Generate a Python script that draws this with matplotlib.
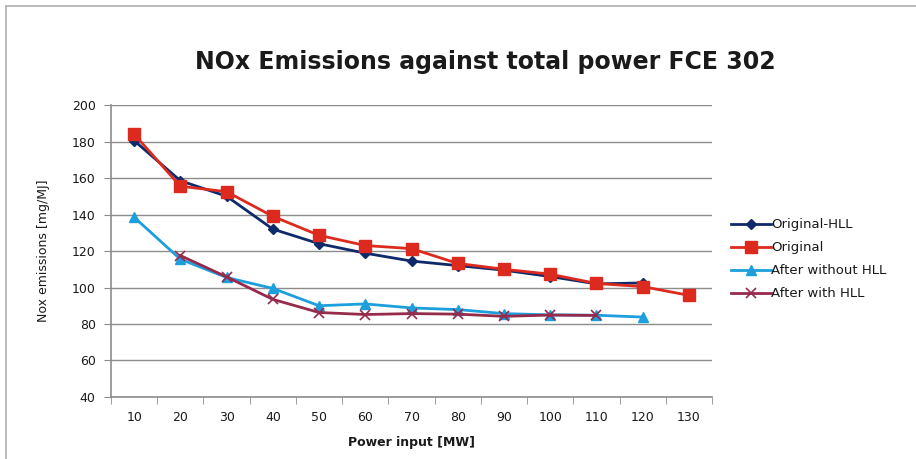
import matplotlib
matplotlib.use("Agg")
import matplotlib.pyplot as plt
from matplotlib.lines import Line2D

# Category axis: power input in MW
power_mw = [10, 20, 30, 40, 50, 60, 70, 80, 90, 100, 110, 120, 130]

# NOx emissions [mg/MJ] per series (None = no reading at that power)
original_hll = [180.5, 158.5, 150, 132, 124, 118.8, 114.5, 112, 109.5, 106, 102, 102.5, None]
original = [184, 155.5, 152.5, 139, 128.6, 123, 121.3, 113.2, 110, 107.3, 102.2, 100.5, 95.7]
after_without_hll = [138.5, 115.5, 105.5, 99.5, 90, 91, 88.8, 87.9, 85.7, 85, 84.8, 83.8, None]
after_with_hll = [None, 117.5, 105.8, 93.5, 86.3, 85.2, 85.7, 85.4, 84.2, 84.9, 84.7, None, None]

INK = "#1a1a1a"
GRID = "#8c8c8c"
NAVY = "#0e2a6a"
RED = "#dc2a1e"
SKY = "#1c9fdc"
CRIMSON = "#962a4b"

fig = plt.figure(figsize=(9.16, 4.59), dpi=100)
fig.patch.set_facecolor("white")
ax = fig.add_axes([0.1212, 0.1351, 0.6561, 0.6361])

xs = list(range(len(power_mw)))


def series(values, color, marker, label, ms, mew=1.0):
    pts = [(x, v) for x, v in zip(xs, values) if v is not None]
    ax.plot(
        [p[0] for p in pts],
        [p[1] for p in pts],
        color=color,
        marker=marker,
        markersize=ms,
        markeredgewidth=mew,
        markerfacecolor=color,
        markeredgecolor=color,
        linewidth=2.0,
        label=label,
        zorder=3,
    )


series(original_hll, NAVY, "D", "Original-HLL", 5.5)
series(original, RED, "s", "Original", 8)
series(after_without_hll, SKY, "^", "After without HLL", 7.5)
series(after_with_hll, CRIMSON, "x", "After with HLL", 7.5, mew=1.2)

ax.set_xlim(-0.5, len(power_mw) - 0.5)
ax.set_ylim(40, 200)
ax.set_yticks(range(40, 201, 20))
ax.set_xticks(xs)
ax.set_xticklabels([str(p) for p in power_mw])
ax.set_xticks([x + 0.5 for x in [-1] + xs], minor=True)

ax.grid(axis="y", color=GRID, linewidth=1.0)
ax.set_axisbelow(True)
for side in ("top", "right"):
    ax.spines[side].set_visible(False)
for side in ("left", "bottom"):
    ax.spines[side].set_color(GRID)
    ax.spines[side].set_linewidth(1.2)

ax.tick_params(axis="y", colors=GRID, labelcolor=INK, labelsize=9, length=5, pad=6)
ax.tick_params(axis="x", which="major", length=0, labelsize=9, labelcolor=INK, pad=10)
ax.tick_params(axis="x", which="minor", length=5, color=GRID)

ax.set_xlabel("Power input [MW]", fontsize=9, fontweight="bold", color=INK, labelpad=9)
ax.set_ylabel("Nox emissions [mg/MJ]", fontsize=9, color=INK, labelpad=16)

fig.text(0.53, 0.865, "NOx Emissions against total power FCE 302",
         ha="center", va="center", fontsize=17, fontweight="bold", color=INK)

leg = fig.legend(
    loc="center left",
    bbox_to_anchor=(0.785, 0.435),
    frameon=False,
    fontsize=9.5,
    handlelength=3.0,
    handletextpad=0.05,
    labelspacing=0.75,
)
for text in leg.get_texts():
    text.set_color(INK)

# Chart-area border (top and left edges)
fig.add_artist(Line2D([6 / 916, 1.0], [1 - 6 / 459, 1 - 6 / 459], color="#b0b0b0", linewidth=1.2))
fig.add_artist(Line2D([6 / 916, 6 / 916], [0.0, 1 - 6 / 459], color="#b0b0b0", linewidth=1.2))

fig.savefig("out.png", dpi=100, facecolor="white")
plt.close(fig)
